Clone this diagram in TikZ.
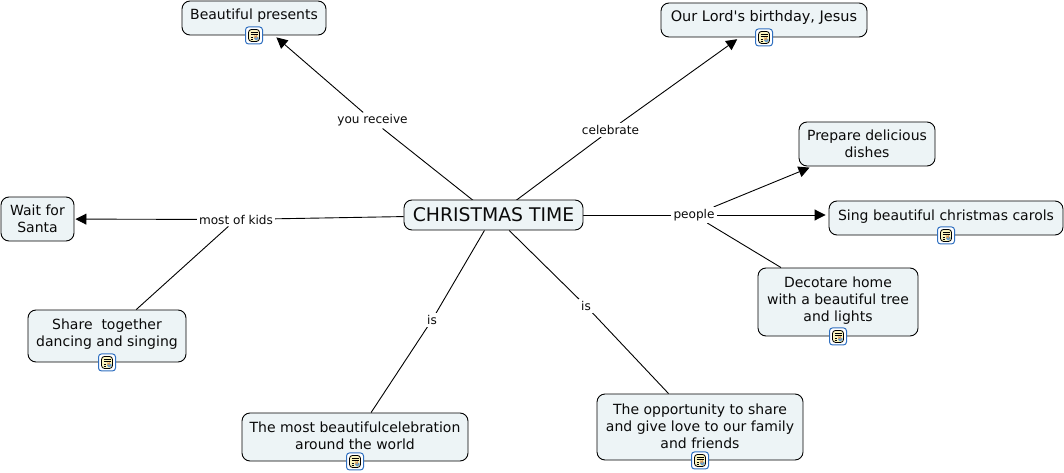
\documentclass[tikz,border=0pt]{standalone}
\usepackage{fontspec}
\newfontfamily\diagramfont{DejaVu Sans}
\usetikzlibrary{arrows.meta,backgrounds}
\definecolor{boxfill}{HTML}{EDF4F6}
\definecolor{inktext}{HTML}{0A0A0A}
\definecolor{iconblue}{HTML}{2F6FC0}
\definecolor{iconpaper}{HTML}{FBF5C0}
\definecolor{iconsky}{HTML}{5C9BD8}
\definecolor{iconsun}{HTML}{E09A50}
\tikzset{
  x=1pt,y=-1pt,
  concept/.style={draw=black,line width=0.9pt,fill=boxfill,rounded corners=8pt,align=center,inner sep=0pt,text=inktext,font=\diagramfont\fontsize{14}{17.3}\selectfont},
  linklabel/.style={inner xsep=2pt,inner ysep=2pt,fill=white,text=inktext,font=\diagramfont\fontsize{12.1}{14}\selectfont},
  link/.style={draw=black,line width=0.9pt},
  arrowlink/.style={link,-{Triangle[length=11pt,width=11pt]},shorten >=3pt},
  singleline/.style={text height=6pt,text depth=2pt},
  notebadge/.style={minimum width=17pt,minimum height=17pt,inner sep=0pt,draw=iconblue,line width=1pt,fill=white,rounded corners=3pt,
    path picture={
      \def\cc{path picture bounding box.center}
      \fill[iconpaper,draw=black,line width=0.8pt] ([shift={(-5.5pt,-6pt)}]\cc) rectangle ([shift={(5.5pt,6pt)}]\cc);
      \fill[iconsky] ([shift={(0pt,-5pt)}]\cc) rectangle ([shift={(4.5pt,-0.5pt)}]\cc);
      \fill[iconsun] ([shift={(0.5pt,-2pt)}]\cc) rectangle ([shift={(2.5pt,-0.5pt)}]\cc);
      \foreach \yy in {1.5,3.5}{\draw[black,line width=0.6pt] ([shift={(-3.5pt,\yy pt)}]\cc) -- ([shift={(3.5pt,\yy pt)}]\cc);}
      \foreach \yy in {-3.5,-1.5}{\draw[black,line width=0.6pt] ([shift={(-3.5pt,\yy pt)}]\cc) -- ([shift={(-1pt,\yy pt)}]\cc);}
    }},
}
\newcommand{\conceptbox}[7]{\node[concept,minimum width=#4pt,minimum height=#5pt,#7] (#1) at (#2,#3) {#6};}
\begin{document}
\begin{tikzpicture}
\useasboundingbox (0,0) rectangle (1064,473);

\conceptbox{nMain}{493.5}{215}{179}{30}{\fontsize{18.8}{22}\selectfont CHRISTMAS TIME}{}
\conceptbox{nPresents}{254}{18}{144}{34}{Beautiful presents}{singleline}
\conceptbox{nLord}{764}{20}{206}{34}{\fontsize{14.5}{17.3}\selectfont Our Lord's birthday, Jesus}{singleline}
\conceptbox{nDishes}{867}{144}{136}{44}{Prepare delicious\\dishes}{}
\conceptbox{nCarols}{946}{218}{234}{34}{Sing beautiful christmas carols}{singleline}
\conceptbox{nHome}{838}{302}{160}{68}{Decotare home\\with a beautiful tree\\and lights}{text depth=6pt}
\conceptbox{nShare}{700}{427}{206}{66}{The opportunity to share\\and give love to our family\\and friends}{text depth=2pt}
\conceptbox{nWorld}{355}{437}{226}{48}{The most beautifulcelebration\\around the world}{text depth=2pt}
\conceptbox{nDance}{107}{336}{158}{52}{Share\ \ together\\dancing and singing}{text depth=7pt}
\conceptbox{nSanta}{37.5}{219}{73}{44}{Wait for\\Santa}{}

\node[linklabel] (lReceive) at (372.5,120.5) {you receive};
\node[linklabel] (lCelebrate) at (610.5,130) {celebrate};
\node[linklabel] (lPeople) at (694,215) {people};
\node[linklabel] (lKids) at (236,219.5) {most of kids};
\node[linklabel] (lIsA) at (432,320) {is};
\node[linklabel] (lIsB) at (586,306) {is};

\begin{pgfonlayer}{background}
\path[link] ([xshift=-2pt]nMain.center) -- (lReceive);
\path[arrowlink] (lReceive) -- (nPresents);
\path[link] ([xshift=3pt]nMain.center) -- (lCelebrate);
\path[arrowlink] (lCelebrate) -- (nLord);
\path[link] (nMain.east) -- (lPeople);
\path[arrowlink] (lPeople) -- (nDishes);
\path[arrowlink] (lPeople) -- (nCarols.west |- lPeople);
\path[link] (lPeople) -- (nHome);
\path[link] (nMain) -- (lKids);
\path[arrowlink,shorten >=1pt] (lKids) -- (nSanta);
\path[link] (lKids) -- (nDance);
\path[link] (nMain) -- (lIsA);
\path[link] (lIsA) -- (nWorld);
\path[link] (nMain) -- (lIsB);
\path[link] (lIsB) -- (nShare);
\end{pgfonlayer}

\foreach \nm in {nPresents,nLord,nCarols,nHome,nShare,nWorld,nDance}
  \node[notebadge] (b\nm) at (\nm.south) {};
\end{tikzpicture}
\end{document}
